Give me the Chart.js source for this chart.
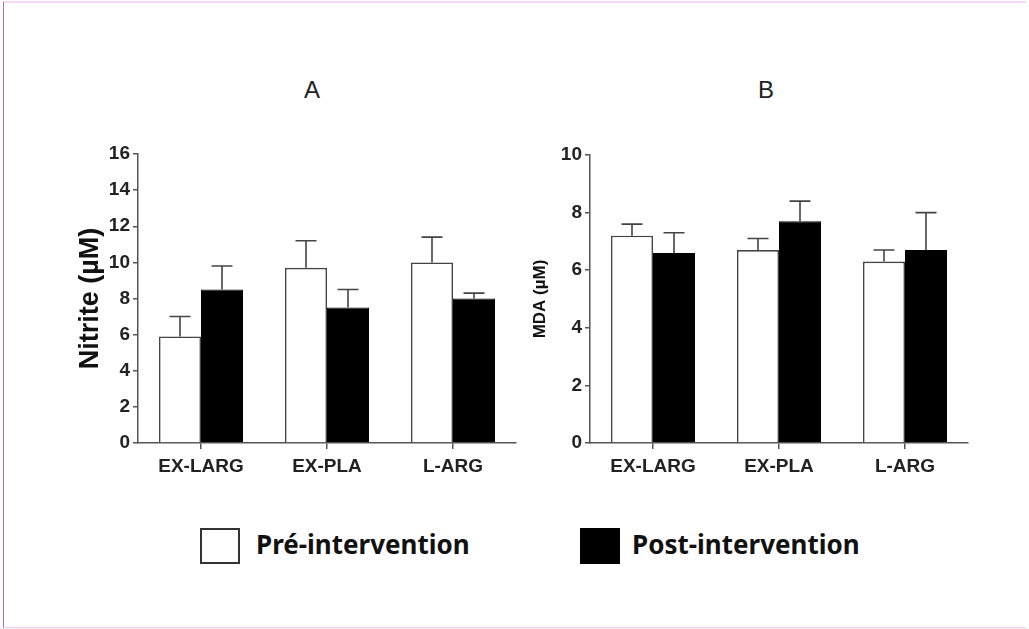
<!DOCTYPE html>
<html>
<head>
<meta charset="utf-8">
<script src="https://cdn.jsdelivr.net/npm/chart.js@4.4.1/dist/chart.umd.min.js"></script>
<style>
	html, body { margin: 0; padding: 0; background: #fff; }
	#page { position: relative; width: 1029px; height: 629px; overflow: hidden; background: #fff; }
	#frame { position: absolute; left: 3px; top: 1px; width: 1022px; height: 624px;
		border-left: 1px solid #a070b0; border-top: 2px solid #f8d8f8; border-bottom: 2px solid #f8d0f8; }
	#bottomStrip { position: absolute; left: 0; top: 628px; width: 1029px; height: 1px; background: #eef0f4; }
	.chartBox { position: absolute; }
	.title { position: absolute; font-family: "Liberation Sans", Arial, sans-serif; font-size: 24px; color: #222; }
	.legBox { position: absolute; width: 36px; height: 32px; border: 2px solid #333; }
	.legText { position: absolute; font-family: "Noto Sans", sans-serif; font-weight: bold; font-size: 26px; color: #111; white-space: nowrap; }
</style>
</head>
<body>
<div id="page">
	<div id="frame"></div>
	<div id="bottomStrip"></div>

	<div class="title" style="left:304px; top:76px;">A</div>
	<div class="title" style="left:758px; top:76px;">B</div>

	<div class="chartBox" style="left:40px; top:120px; width:490px; height:370px;"><canvas id="chartA"></canvas></div>
	<div class="chartBox" style="left:500px; top:120px; width:490px; height:370px;"><canvas id="chartB"></canvas></div>

	<div class="legBox" style="left:200px; top:528px; background:#fff;"></div>
	<div class="legText" style="left:256px; top:526px;">Pré-intervention</div>
	<div class="legBox" style="left:580px; top:528px; background:#000; border-color:#000;"></div>
	<div class="legText" style="left:632px; top:526px;">Post-intervention</div>
</div>

<script>
// datos
var groups = ['EX-LARG', 'EX-PLA', 'L-ARG'];

var nitritePre = [5.9, 9.7, 10.0];
var nitritePreErr = [1.1, 1.5, 1.4];
var nitritePost = [8.5, 7.5, 8.0];
var nitritePostErr = [1.3, 1.0, 0.3];

var mdaPre = [7.2, 6.7, 6.3];
var mdaPreErr = [0.4, 0.4, 0.4];
var mdaPost = [6.6, 7.7, 6.7];
var mdaPostErr = [0.7, 0.7, 1.3];

var axisColor = '#555';
var tickFont = { family: '"Liberation Sans", Arial, sans-serif', size: 19, weight: 'bold' };

// barras de error (solo hacia arriba, con tapa)
var errorBars = {
	id: 'errorBars',
	afterDatasetsDraw: function(chart){
		var ctx = chart.ctx;
		var yScale = chart.scales.y;
		chart.data.datasets.forEach(function(ds, i){
			var meta = chart.getDatasetMeta(i);
			meta.data.forEach(function(bar, j){
				var top = yScale.getPixelForValue(ds.data[j] + ds.errors[j]);
				ctx.save();
				ctx.strokeStyle = '#444';
				ctx.lineWidth = 1.6;
				ctx.beginPath();
				ctx.moveTo(bar.x, bar.y);
				ctx.lineTo(bar.x, top);
				ctx.moveTo(bar.x - 10.5, top);
				ctx.lineTo(bar.x + 10.5, top);
				ctx.stroke();
				ctx.restore();
			});
		});
	}
};

function makeChart(id, pre, preErr, post, postErr, yMax, yTitle, titleSize, titlePad, yWidth, pad){
	var ctx = document.getElementById(id).getContext('2d');
	return new Chart(ctx, {
		type: 'bar',
		data: {
			labels: groups,
			datasets: [{
				label: 'Pré-intervention',
				data: pre,
				errors: preErr,
				backgroundColor: '#fff',
				borderColor: '#444',
				borderWidth: 1.6
			}, {
				label: 'Post-intervention',
				data: post,
				errors: postErr,
				backgroundColor: '#000',
				borderColor: '#000',
				borderWidth: 1
			}]
		},
		options: {
			responsive: true,
			maintainAspectRatio: false,
			animation: false,
			layout: { padding: pad },
			datasets: { bar: { barPercentage: 1, categoryPercentage: 0.667 } },
			plugins: { legend: { display: false }, tooltip: { enabled: false } },
			scales: {
				x: {
					grid: { display: true, drawOnChartArea: false, offset: false, color: axisColor, lineWidth: 1.5, tickLength: 6 },
					border: { color: axisColor, width: 1.5 },
					ticks: { color: '#222', font: tickFont, padding: 6, maxRotation: 0 },
					afterFit: function(scale){ scale.height = 47; }
				},
				y: {
					min: 0,
					max: yMax,
					grid: { drawOnChartArea: false, color: axisColor, lineWidth: 1.5, tickLength: 5 },
					border: { color: axisColor, width: 1.5 },
					ticks: { stepSize: 2, color: '#222', font: tickFont, padding: 3 },
					title: {
						display: true,
						text: yTitle,
						color: '#111',
						font: { family: '"Liberation Sans", Arial, sans-serif', size: titleSize, weight: 'bold' },
						padding: { top: titlePad, bottom: 0 }
					},
					afterFit: function(scale){ scale.width = yWidth; }
				}
			}
		},
		plugins: [errorBars]
	});
}

makeChart('chartA', nitritePre, nitritePreErr, nitritePost, nitritePostErr, 16, 'Nitrite (µM)', 27, 34, 98, { top: 34, right: 14, bottom: 0, left: 0 });
makeChart('chartB', mdaPre, mdaPreErr, mdaPost, mdaPostErr, 10, 'MDA (µM)', 17, 30, 90, { top: 35, right: 22, bottom: 0, left: 0 });
</script>
</body>
</html>
